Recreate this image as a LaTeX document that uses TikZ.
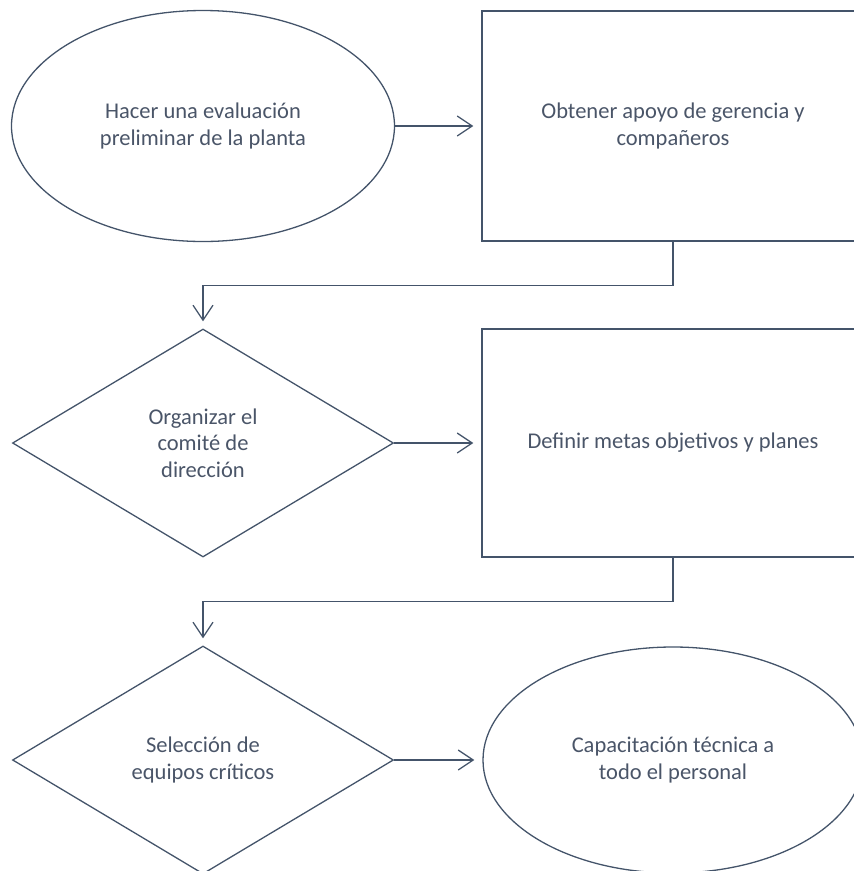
\documentclass[tikz,border=0pt]{standalone}
\usepackage{fontspec}
\setmainfont{Carlito}
\usetikzlibrary{shapes.geometric,arrows.meta}
\definecolor{slate}{HTML}{44546A}
\definecolor{slatetext}{HTML}{4A5568}
\tikzset{
  every node/.style={font=\fontsize{22.5}{26.5}\selectfont, text=slatetext, align=center, inner sep=0pt},
  outline/.style={draw=slate, line width=1.3pt},
  oval/.style={outline, ellipse},
  procbox/.style={outline, rectangle},
  decision/.style={outline, diamond},
  flow/.style={draw=slate, line width=1.3pt,
    -{Straight Barb[length=15pt,width=20pt,line width=1.3pt]}},
}
\begin{document}
\begin{tikzpicture}[x=1pt,y=-1pt]
\useasboundingbox (0,0) rectangle (854,871);

% top row
\node[oval, minimum width=383pt, minimum height=231pt] (e1) at (203,126)
  {Hacer una evaluación\\preliminar de la planta};
\node[procbox, minimum width=382pt, minimum height=230pt] (r1) at (673,126)
  {Obtener apoyo de gerencia y\\compañeros};

% middle row
\node[decision, minimum width=381pt, minimum height=228pt] (d1) at (203,443)
  {Organizar el\\comité de\\dirección};
\node[procbox, minimum width=382pt, minimum height=228pt] (r2) at (673,443)
  {Definir metas objetivos y planes};

% bottom row
\node[decision, minimum width=381pt, minimum height=228pt] (d2) at (203,760)
  {Selección de\\equipos críticos};
\node[oval, minimum width=380pt, minimum height=226pt] (e2) at (673,760)
  {Capacitación técnica a\\todo el personal};

% connectors
\draw[flow, shorten >=8pt] (e1.east) -- (r1.west);
\draw[flow, shorten >=7pt] (r1.south) -- ++(0,44) -| (d1.north);
\draw[flow, shorten >=8pt] (d1.east) -- (r2.west);
\draw[flow, shorten >=7pt] (r2.south) -- ++(0,44) -| (d2.north);
\draw[flow, shorten >=8pt] (d2.east) -- (e2.west);
\end{tikzpicture}
\end{document}
